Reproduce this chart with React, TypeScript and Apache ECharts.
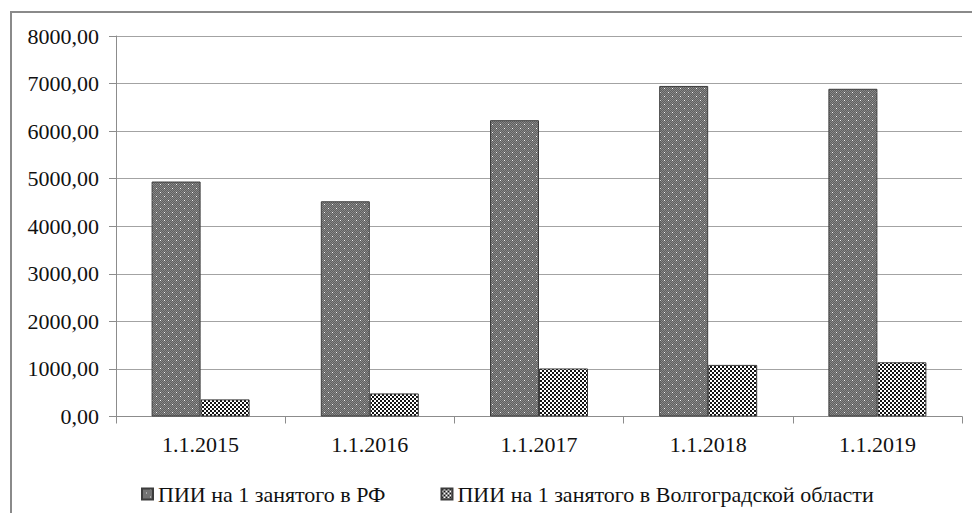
import React, { useEffect, useRef } from "react";
import * as echarts from "echarts";

const categories = ["1.1.2015", "1.1.2016", "1.1.2017", "1.1.2018", "1.1.2019"];
const seriesNames = [
  "ПИИ на 1 занятого в РФ",
  "ПИИ на 1 занятого в Волгоградской области",
];
const valuesRF = [4940, 4525, 6230, 6950, 6890];
const valuesVolgograd = [360, 485, 1010, 1085, 1140];
const yTicks = [0, 1000, 2000, 3000, 4000, 5000, 6000, 7000, 8000];

// Tile drawn pixel by pixel: "X" = ink colour, "o" = spot colour, "." = background
function makeTile(rows: string[], bg: string, ink: string, spot: string) {
  const h = rows.length;
  const w = rows[0].length;
  const c = document.createElement("canvas");
  c.width = w;
  c.height = h;
  const ctx = c.getContext("2d")!;
  ctx.fillStyle = bg;
  ctx.fillRect(0, 0, w, h);
  for (let y = 0; y < h; y++) {
    for (let x = 0; x < w; x++) {
      const ch = rows[y][x];
      if (ch === "X") {
        ctx.fillStyle = ink;
        ctx.fillRect(x, y, 1, 1);
      } else if (ch === "o") {
        ctx.fillStyle = spot;
        ctx.fillRect(x, y, 1, 1);
      }
    }
  }
  return { image: c, repeat: "repeat", imageWidth: w, imageHeight: h } as any;
}

export default function App() {
  const ref = useRef<HTMLDivElement>(null);

  useEffect(() => {
    if (!ref.current) return;
    document.body.style.margin = "0";
    const chart = echarts.init(ref.current, null, { renderer: "svg" });

    // dotted grey weave for the federal series
    const greyDots = makeTile(
      [
        "oX.X.X.X",
        "X.X.X.X.",
        ".X.X.X.X",
        "X.X.X.X.",
        ".X.XoX.X",
        "X.X.X.X.",
        ".X.X.X.X",
        "X.X.X.X.",
      ],
      "#868686",
      "#606060",
      "#f4f4f4"
    );
    // small black and white checks for the regional series
    const checks = makeTile(
      ["XX..", "XX..", "..XX", "..XX"],
      "#ffffff",
      "#141414",
      "#141414"
    );

    const serifFont = "Liberation Serif";
    const ink = "#111111";

    chart.setOption({
      animation: false,
      grid: { left: 116, right: 10, top: 36, bottom: 96.5 },
      graphic: [
        {
          type: "rect",
          shape: { x: 11, y: 12, width: 1000, height: 600 },
          style: { fill: "none", stroke: "#8a8a8a", lineWidth: 2 },
          silent: true,
        },
      ],
      legend: {
        left: 136,
        top: 478,
        itemWidth: 11,
        itemHeight: 11,
        itemGap: 55,
        icon: "rect",
        textStyle: { fontFamily: serifFont, fontSize: 22, color: ink },
        data: seriesNames,
      },
      xAxis: {
        type: "category",
        data: categories,
        axisLine: { lineStyle: { color: "#8c8c8c", width: 1 } },
        axisTick: { show: true, length: 7, lineStyle: { color: "#8c8c8c" } },
        axisLabel: { fontFamily: serifFont, fontSize: 22, color: ink, margin: 17 },
      },
      yAxis: {
        type: "value",
        min: yTicks[0],
        max: yTicks[yTicks.length - 1],
        interval: 1000,
        axisLine: { show: true, lineStyle: { color: "#8c8c8c", width: 1 } },
        axisTick: { show: true, length: 7, lineStyle: { color: "#8c8c8c" } },
        splitLine: { lineStyle: { color: "#a3a3a3", width: 1.2 } },
        axisLabel: {
          fontFamily: serifFont,
          fontSize: 22,
          color: ink,
          margin: 17,
          formatter: (v: number) => v.toFixed(2).replace(".", ","),
        },
      },
      series: [
        {
          name: seriesNames[0],
          type: "bar",
          data: valuesRF,
          barWidth: 49,
          barGap: "0%",
          itemStyle: { color: greyDots, borderColor: "#3c3c3c", borderWidth: 1 },
        },
        {
          name: seriesNames[1],
          type: "bar",
          data: valuesVolgograd,
          barWidth: 49,
          barGap: "0%",
          itemStyle: { color: checks, borderColor: "#3c3c3c", borderWidth: 1 },
        },
      ],
    });

    return () => chart.dispose();
  }, []);

  return <div ref={ref} style={{ width: 972, height: 513 }} />;
}
